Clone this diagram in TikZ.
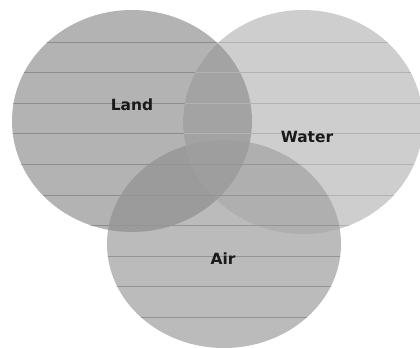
\documentclass[tikz,border=0pt]{standalone}
\usepackage{fontspec}
\setmainfont{DejaVu Sans}
\definecolor{landfill}{HTML}{B3B3B3}
\definecolor{waterfill}{HTML}{CECECE}
\definecolor{airfill}{HTML}{BBBBBB}
\definecolor{lwfill}{HTML}{A3A3A3}
\definecolor{lafill}{HTML}{9B9B9B}
\definecolor{wafill}{HTML}{AFAFAF}
\definecolor{lwafill}{HTML}{9E9E9E}
\tikzset{
  hatch/.style={line width=1.1bp},
  setlabel/.style={font=\bfseries\fontsize{15.5}{18}\selectfont,inner sep=0pt,text=black!90}
}
\begin{document}
\begin{tikzpicture}[x=1bp,y=-1bp]
\useasboundingbox (0,0) rectangle (420,348);
% the three sets
\fill[landfill] (132,121) ellipse [x radius=120, y radius=111];
\fill[waterfill] (303,122) ellipse [x radius=120, y radius=112];
\fill[airfill] (224,244) ellipse [x radius=117, y radius=104];
% pairwise overlaps
\begin{scope}
\clip (132,121) ellipse [x radius=120, y radius=111];
\fill[lwfill] (303,122) ellipse [x radius=120, y radius=112];
\fill[lafill] (224,244) ellipse [x radius=117, y radius=104];
\end{scope}
\begin{scope}
\clip (303,122) ellipse [x radius=120, y radius=112];
\fill[wafill] (224,244) ellipse [x radius=117, y radius=104];
\clip (132,121) ellipse [x radius=120, y radius=111];
\fill[lwafill] (224,244) ellipse [x radius=117, y radius=104];
\end{scope}
% horizontal rules
\begin{scope}
\clip (132,121) ellipse [x radius=120, y radius=111];
\foreach \y in {1,...,10}
  \draw[hatch,black!45] (0,11.5+30.6*\y) -- (420,11.5+30.6*\y);
\end{scope}
\begin{scope}
\clip (303,122) ellipse [x radius=120, y radius=112];
\foreach \y in {1,...,10}
  \draw[hatch,black!30] (0,11.5+30.6*\y) -- (420,11.5+30.6*\y);
\end{scope}
\begin{scope}
\clip (224,244) ellipse [x radius=117, y radius=104];
\foreach \y in {1,...,10}
  \draw[hatch,black!42] (0,11.5+30.6*\y) -- (420,11.5+30.6*\y);
\end{scope}
% labels
\node[setlabel] (land) at (132,105) {Land};
\node[setlabel] (water) at (307,137) {Water};
\node[setlabel] (air) at (223,259) {Air};
\end{tikzpicture}
\end{document}
